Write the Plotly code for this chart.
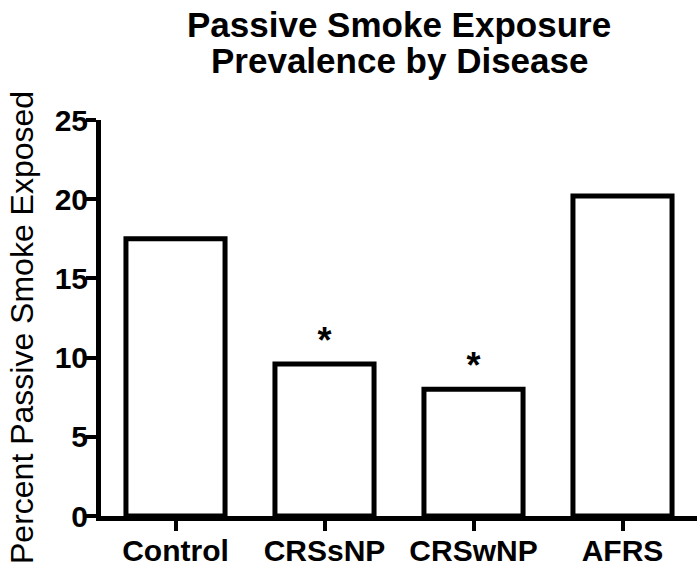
import plotly.graph_objects as go

categories = ["Control", "CRSsNP", "CRSwNP", "AFRS"]
values = [17.5, 9.6, 8.0, 20.2]
significance = ["", "<b>*</b>", "<b>*</b>", ""]
y_ticks = [0, 5, 10, 15, 20, 25]
title_lines = ["Passive Smoke Exposure", "Prevalence by Disease"]
y_title = "Percent Passive Smoke Exposed"

FONT = "Liberation Sans, Arial, sans-serif"
W, H = 700, 571
L, R, T, B = 101, 3, 120, 55
PH = H - T - B

fig = go.Figure()
fig.add_trace(go.Bar(
    x=categories,
    y=values,
    text=significance,
    textposition="outside",
    textfont=dict(family=FONT, size=36, color="black"),
    cliponaxis=False,
    marker=dict(color="white", line=dict(color="black", width=5)),
    width=0.665,
    hoverinfo="x+y",
))

annotations = []
for i, line in enumerate(title_lines):
    annotations.append(dict(
        text="<b>%s</b>" % line, xref="paper", yref="paper",
        x=0.5, xanchor="center",
        y=(H - B - 24 - 37 * i) / PH, yanchor="middle",
        showarrow=False,
        font=dict(family=FONT, size=35, color="black"),
    ))
annotations.append(dict(
    text=y_title, xref="paper", yref="paper",
    x=(22 - L) / (W - L - R), xanchor="center",
    y=(H - B - 328) / PH, yanchor="middle",
    textangle=-90, showarrow=False,
    font=dict(family=FONT, size=32, color="black"),
))

fig.update_layout(
    width=W,
    height=H,
    margin=dict(l=L, r=R, t=T, b=B, autoexpand=False),
    paper_bgcolor="white",
    plot_bgcolor="white",
    showlegend=False,
    annotations=annotations,
    xaxis=dict(
        range=[-0.5, 3.5],
        automargin=False,
        showline=True, linecolor="black", linewidth=5,
        ticks="outside", ticklen=10, tickwidth=4, tickcolor="black",
        ticklabelstandoff=-6,
        tickfont=dict(family=FONT, size=30, color="black", weight="bold"),
        showgrid=False, zeroline=False,
    ),
    yaxis=dict(
        range=[0, 25],
        automargin=False,
        tickvals=y_ticks,
        showline=True, linecolor="black", linewidth=5,
        ticks="outside", ticklen=10, tickwidth=4, tickcolor="black",
        ticklabelstandoff=-8,
        tickfont=dict(family=FONT, size=30, color="black", weight="bold"),
        showgrid=False, zeroline=False,
    ),
)

fig.write_html(
    "out.html",
    config={"displayModeBar": False},
    post_script="document.body.style.margin='0';",
)
